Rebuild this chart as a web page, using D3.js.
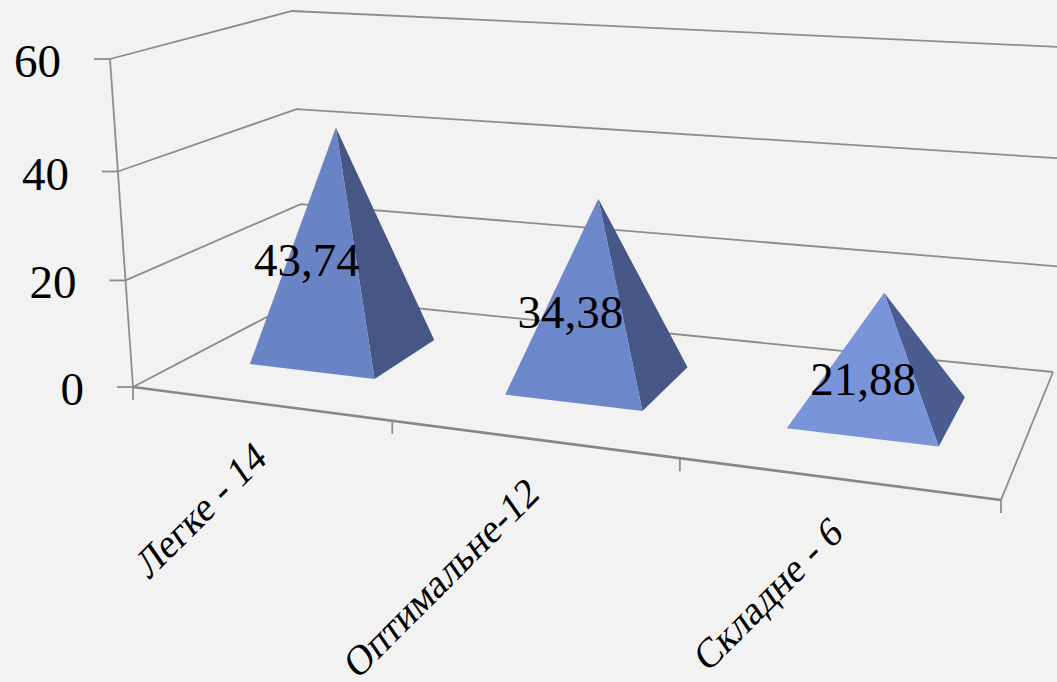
<!DOCTYPE html>
<html><head><meta charset="utf-8">
<script src="https://cdn.jsdelivr.net/npm/d3@7"></script>
<style>html,body{margin:0;padding:0;background:#f2f2f2;overflow:hidden}svg{display:block}text{font-family:"Liberation Serif",serif;fill:#000}</style>
</head><body><div id="c"></div>
<script>
const categories = ["Легке - 14", "Оптимальне-12", "Складне - 6"];
const values = [43.74, 34.38, 21.88];
const valueLabels = ["43,74", "34,38", "21,88"];
const yTicks = [0, 20, 40, 60];

const W = 1057, H = 682;
const svg = d3.select("#c").append("svg").attr("width", W).attr("height", H);
svg.append("rect").attr("width", W).attr("height", H).attr("fill", "#f2f2f2");

function homography(c) {
  const [[x0,y0],[x1,y1],[x2,y2],[x3,y3]] = c; // (0,0),(1,0),(1,1),(0,1)
  const dx1=x1-x2, dx2=x3-x2, sx=x0-x1+x2-x3, dy1=y1-y2, dy2=y3-y2, sy=y0-y1+y2-y3;
  const den=dx1*dy2-dx2*dy1;
  const g=(sx*dy2-dx2*sy)/den, h=(dx1*sy-sx*dy1)/den;
  const a=x1-x0+g*x1, b=x3-x0+h*x3, d=y1-y0+g*y1, e=y3-y0+h*y3;
  return (u,v)=>{const w=g*u+h*v+1;return [(a*u+b*v+x0)/w,(d*u+e*v+y0)/w];};
}
const floorH = homography([[133,387],[1001,500],[1053,372],[305,297]]);
const topH   = homography([[110,59],[1028,134],[1081,48],[292,11]]);
const lift = d3.scaleLinear().domain(yTicks).range([0,.325,.657,1]);
// category position along the floor (0 = first tick, n = last tick)
const uScale = d3.scaleLinear().domain([0,1,2,3]).range([0,.346,.679,1]);
function project(u,v,d){
  const a=floorH(u,d), b=topH(u,d), t=lift(v);
  return [a[0]+(b[0]-a[0])*t, a[1]+(b[1]-a[1])*t];
}
const line = d3.line();
const gridColor = "#8c8c8c";

// walls
yTicks.forEach(v=>{
  svg.append("path").attr("fill","none").attr("stroke",gridColor).attr("stroke-width",1.8)
    .attr("d",line([project(0,v,0),project(0,v,1),project(1,v,1)]));
});
// floor + axes
svg.append("path").attr("fill","none").attr("stroke",gridColor).attr("stroke-width",1.8)
  .attr("d",line([project(0,0,0),project(0,60,0)]));
svg.append("path").attr("fill","none").attr("stroke",gridColor).attr("stroke-width",1.8)
  .attr("d",line([project(1,0,0),project(1,0,1)]));
svg.append("path").attr("fill","none").attr("stroke","#878787").attr("stroke-width",2.6)
  .attr("d",line([project(0,0,0),project(1,0,0)]));

// y axis ticks and labels
yTicks.forEach(v=>{
  const p=project(0,v,0);
  svg.append("line").attr("x1",p[0]-16).attr("x2",p[0]).attr("y1",p[1]).attr("y2",p[1])
    .attr("stroke",gridColor).attr("stroke-width",1.8);
  svg.append("text").attr("x",p[0]-49).attr("y",p[1]+18).attr("text-anchor","end")
    .attr("font-size",47).text(v);
});
// x ticks
d3.range(categories.length+1).forEach(i=>{
  const p=project(uScale(i),0,0);
  svg.append("line").attr("x1",p[0]).attr("x2",p[0]).attr("y1",p[1]).attr("y2",p[1]+13)
    .attr("stroke",gridColor).attr("stroke-width",1.8);
});

// pyramids
const frontColors=["#6a83c5","#6d87cb","#7a94da"];
const sideColors=["#465785","#475888","#4a5c90"];
const peakShift=[.062,.08,.03]; // perspective correction of the peak, in category widths
const inset=.25, dNear=.3, dFar=.7;
values.forEach((val,i)=>{
  const u0=uScale(i+inset), u1=uScale(i+1-inset);
  const um=uScale(i+.5+peakShift[i]), dm=.5;
  const fl=project(u0,0,dNear), fr=project(u1,0,dNear), br=project(u1,0,dFar), ap=project(um,val,dm);
  svg.append("path").attr("fill",sideColors[i]).attr("d",line([fr,br,ap])+"Z");
  svg.append("path").attr("fill",frontColors[i]).attr("d",line([fl,fr,ap])+"Z");
});
// value labels
values.forEach((val,i)=>{
  const base=project(uScale(i+.5),0,.5), ap=project(uScale(i+.5+.8*peakShift[i]),val,.5);
  const h=base[1]-ap[1];
  const x=(base[0]+ap[0])/2-h*.14, y=(base[1]+ap[1])/2+20+(223-h)*.06;
  svg.append("text").attr("x",x).attr("y",y+16).attr("text-anchor","middle")
    .attr("font-size",47).text(valueLabels[i]);
});
// category labels
categories.forEach((c,i)=>{
  const p=project(uScale(i+.5),0,0);
  svg.append("text").attr("transform",`translate(${p[0]+10},${p[1]+58}) rotate(-45) skewX(-10)`)
    .attr("text-anchor","end").attr("font-size",39.5).text(c);
});
</script></body></html>
